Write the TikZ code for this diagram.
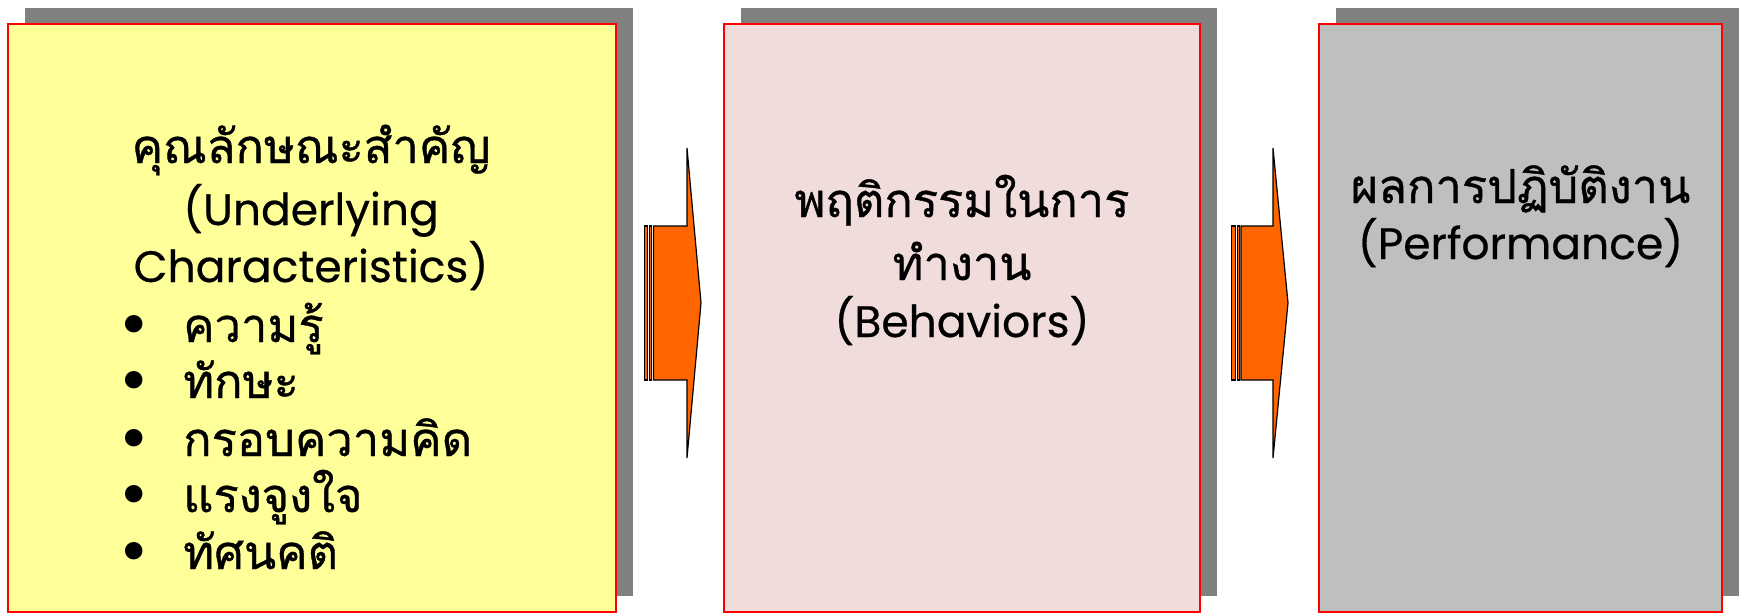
\documentclass[tikz,border=0pt]{standalone}
\usepackage{fontspec}
\usetikzlibrary{shadows}
\newfontfamily\thaifont[Script=Thai,FakeBold=0.8]{Loma}
\newfontfamily\latfont[FakeBold=0.5]{Poppins}
\newfontfamily\symfont{DejaVu Sans}
\definecolor{boxyellow}{HTML}{FFFF99}
\definecolor{boxpink}{HTML}{F0DCDB}
\definecolor{boxgray}{HTML}{BFBFBF}
\definecolor{shadowgray}{HTML}{808080}
\definecolor{arroworange}{HTML}{FF6600}
\tikzset{
  panel/.style={draw=red, line width=2.5pt, minimum height=588pt, inner sep=0pt,
    drop shadow={shadow xshift=16.5pt, shadow yshift=16.5pt, opacity=1, fill=shadowgray}},
  thline/.style={anchor=base, inner sep=0pt, font=\thaifont\fontsize{47}{47}\selectfont},
  enline/.style={anchor=base, inner sep=0pt, font=\latfont\fontsize{44}{44}\selectfont},
  bul/.style={anchor=center, inner sep=0pt, font=\symfont\fontsize{60}{60}\selectfont},
  arrowpart/.style={draw=black, line width=1.2pt, fill=arroworange, line join=miter}
}
\begin{document}
\begin{tikzpicture}[x=1pt,y=-1pt]
\useasboundingbox (0,0) rectangle (1746,613);
\begin{scope}
\clip (0,0) rectangle (1746,613);
% panels
\node[panel, fill=boxyellow, minimum width=608pt] (b1) at (312,318) {};
\node[panel, fill=boxpink, minimum width=476pt] (b2) at (962,318) {};
\node[panel, fill=boxgray, minimum width=403pt] (b3) at (1520.5,318) {};
\end{scope}
% arrow 1
\coordinate (a1) at (644,303);
\draw[arrowpart] ([xshift=0.6pt,yshift=-77pt]a1) rectangle ([xshift=3.6pt,yshift=77pt]a1);
\draw[arrowpart] ([xshift=5.6pt,yshift=-77pt]a1) rectangle ([xshift=7.6pt,yshift=77pt]a1);
\draw[arrowpart] ([xshift=9.5pt,yshift=-77pt]a1) -- ([xshift=43pt,yshift=-77pt]a1)
  -- ([xshift=43pt,yshift=-155pt]a1) -- ([xshift=57pt]a1)
  -- ([xshift=43pt,yshift=155pt]a1) -- ([xshift=43pt,yshift=77pt]a1)
  -- ([xshift=9.5pt,yshift=77pt]a1) -- cycle;
% arrow 2
\coordinate (a2) at (1231,303);
\draw[arrowpart] ([xshift=0.6pt,yshift=-77pt]a2) rectangle ([xshift=4.6pt,yshift=77pt]a2);
\draw[arrowpart] ([xshift=6.6pt,yshift=-77pt]a2) rectangle ([xshift=8.6pt,yshift=77pt]a2);
\draw[arrowpart] ([xshift=10pt,yshift=-77pt]a2) -- ([xshift=42pt,yshift=-77pt]a2)
  -- ([xshift=42pt,yshift=-155pt]a2) -- ([xshift=57pt]a2)
  -- ([xshift=42pt,yshift=155pt]a2) -- ([xshift=42pt,yshift=77pt]a2)
  -- ([xshift=10pt,yshift=77pt]a2) -- cycle;
% box 1 text
\node[thline] (t11) at (311,163) {คุณลักษณะสำคัญ};
\node[enline] (t12) at (311,225) {(Underlying};
\node[enline] (t13) at (311,282) {Characteristics)};
\foreach \y/\txt/\nm in {342/ความรู้/k1, 398/ทักษะ/k2, 456/กรอบความคิด/k3, 512/แรงจูงใจ/k4, 569/ทัศนคติ/k5}{
  \node[bul] (\nm b) at (134,\y-11) {•};
  \node[thline, anchor=base west] (\nm) at (183,\y) {\txt};
}
% box 2 text
\node[thline] (t21) at (962,217) {พฤติกรรมในการ};
\node[thline] (t22) at (962,280) {ทำงาน};
\node[enline] (t23) at (962,337) {(Behaviors)};
% box 3 text
\node[thline] (t31) at (1520.5,203) {ผลการปฏิบัติงาน};
\node[enline] (t32) at (1520.5,259) {(Performance)};
\end{tikzpicture}
\end{document}
